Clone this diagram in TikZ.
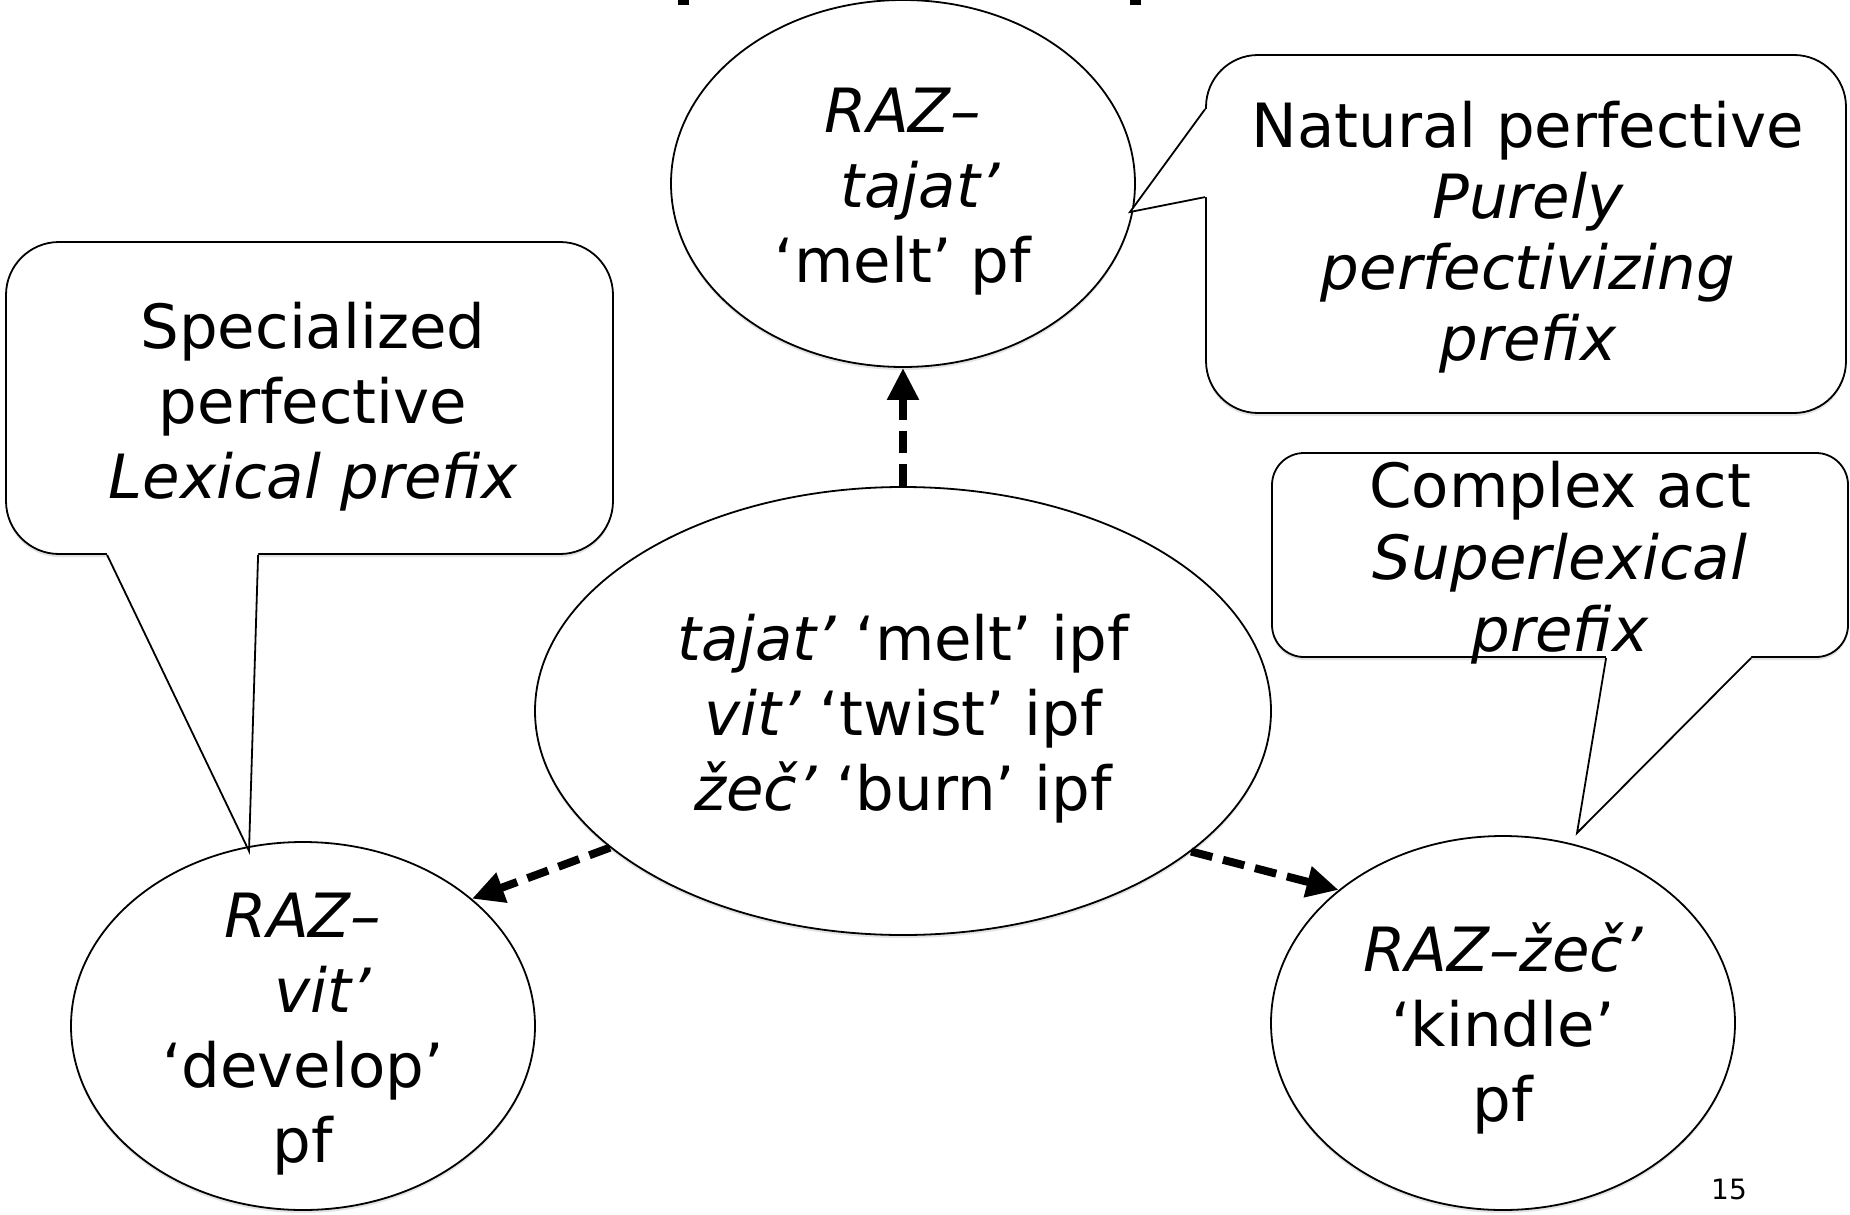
\documentclass[tikz,border=0pt]{standalone}
\usepackage{fontspec}
\setmainfont{DejaVu Sans}
\usetikzlibrary{shapes.geometric,arrows.meta,calc,shadows}
\tikzset{
  shadowed/.style={drop shadow={opacity=0.22, shadow xshift=0pt, shadow yshift=-3pt}},
  ovalnode/.style={ellipse, draw, line width=1.8pt, fill=white, inner sep=0pt, shadowed},
  boxnode/.style={rectangle, draw, line width=1.8pt, fill=white, inner sep=0pt, shadowed},
  txt/.style={font=\fontsize{61}{75}\selectfont, align=center, inner sep=0pt},
  flow/.style={line width=8pt, dash pattern=on 22pt off 11pt, -{Triangle[length=32pt,width=30pt]}},
  tailline/.style={line width=1.8pt, line join=miter},
}
\begin{document}
\begin{tikzpicture}[x=1pt,y=-1pt]
\path[use as bounding box, fill=white] (0,0) rectangle (1850,1215);

% cut-off title fragments
\fill (678,0) rectangle (689,5);
\fill (1130,0) rectangle (1141,5);

% callout boxes
\node[boxnode, rounded corners=53pt, minimum width=607pt, minimum height=312pt] (lbox) at (309.5,398) {};
\node[boxnode, rounded corners=52pt, minimum width=640pt, minimum height=358pt] (rbox) at (1526,234) {};
\node[boxnode, rounded corners=32pt, minimum width=576pt, minimum height=204pt] (cbox) at (1560,555) {};

% ellipses
\node[ovalnode, minimum width=464pt, minimum height=367pt] (etop) at (903,183.5) {};
\node[ovalnode, minimum width=736pt, minimum height=448pt] (ec) at (903,711) {};
\node[ovalnode, minimum width=464pt, minimum height=368pt] (el) at (303,1026) {};
\node[ovalnode, minimum width=464pt, minimum height=374pt] (er) at (1503,1023) {};

% callout tails
\coordinate (tipl) at (249,851);
\coordinate (tipr) at (1130,212);
\coordinate (tipc) at (1577,833);

\fill[white] ($(lbox.south west)+(102,0)$) -- (tipl) -- ($(lbox.south west)+(253,0)$)
  -- ($(lbox.south west)+(253,-4)$) -- ($(lbox.south west)+(102,-4)$) -- cycle;
\draw[tailline] ($(lbox.south west)+(102,0)$) -- (tipl) -- ($(lbox.south west)+(253,0)$);

\fill[white] ($(rbox.north west)+(0,55)$) -- (tipr) -- ($(rbox.north west)+(0,143)$)
  -- ($(rbox.north west)+(4,143)$) -- ($(rbox.north west)+(4,55)$) -- cycle;
\draw[tailline] ($(rbox.north west)+(0,55)$) -- (tipr) -- ($(rbox.north west)+(0,143)$);

\fill[white] ($(cbox.south west)+(335,0)$) -- (tipc) -- ($(cbox.south west)+(480,0)$)
  -- ($(cbox.south west)+(480,-4)$) -- ($(cbox.south west)+(335,-4)$) -- cycle;
\draw[tailline] ($(cbox.south west)+(335,0)$) -- (tipc) -- ($(cbox.south west)+(480,0)$);

% arrows
\draw[flow] (ec.north) -- (etop.south);
\draw[flow] (ec.205.6) -- (el.37.7);
\draw[flow] (ec.334.4) -- (er.141);

% texts
\node[txt] (etopT) at (903,192) {{\itshape RAZ–}\\ \hspace*{34pt}{\itshape tajat’}\\ ‘melt’ pf};
\node[txt] (ecT) at (903,719) {{\itshape tajat’} ‘melt’ ipf\\ {\itshape vit’} ‘twist’ ipf\\ {\itshape žeč’} ‘burn’ ipf};
\node[txt] (elT) at (303,1034.5) {{\itshape RAZ–}\\ \hspace*{40pt}{\itshape vit’}\\ ‘develop’\\ pf};
\node[txt] (erT) at (1503,1028) {{\itshape RAZ–žeč’}\\ ‘kindle’\\ pf};
\node[txt] (lboxT) at (313,407) {Specialized\\ perfective\\ {\itshape Lexical prefix}};
\node[txt, font=\fontsize{61}{71}\selectfont] (rboxT) at (1528,237.5) {Natural perfective\\ {\itshape Purely}\\ {\itshape perfectivizing}\\ {\itshape prefix}};
\node[txt, font=\fontsize{61}{72}\selectfont] (cboxT) at (1560,563) {Complex act\\ {\itshape Superlexical}\\ {\itshape prefix}};
\node[font=\fontsize{28}{34}\selectfont, inner sep=0pt] (pgnum) at (1729,1189) {15};
\end{tikzpicture}
\end{document}
